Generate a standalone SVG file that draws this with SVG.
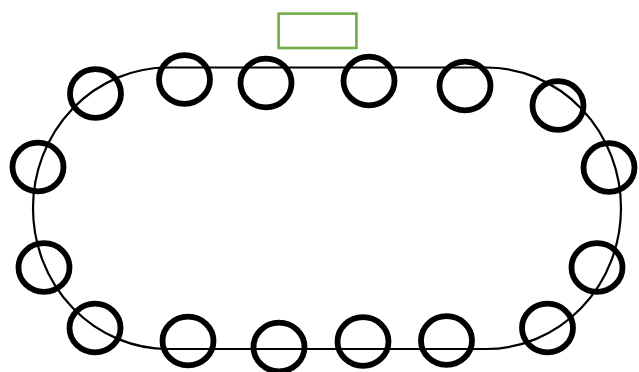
<svg xmlns="http://www.w3.org/2000/svg" width="639" height="372" viewBox="0 0 639 372">
<style>
.track{fill:none;stroke:#000;stroke-width:2.2}
.seat{fill:none;stroke:#000;stroke-width:5.8}
.box{fill:none;stroke:#70ad47;stroke-width:2.6}
</style>
<rect width="639" height="372" fill="#fff"/>
<g id="connectors">
<rect class="track" x="33" y="67.5" width="588" height="281.5" rx="135" ry="140.7"/>
</g>
<g id="box"><rect class="box" x="278.6" y="13.6" width="77.8" height="34.4"/></g>
<g id="s1"><ellipse class="seat" cx="95.5" cy="93.5" rx="25.5" ry="24.3"/></g>
<g id="s2"><ellipse class="seat" cx="184.5" cy="79.5" rx="25.5" ry="24.3"/></g>
<g id="s3"><ellipse class="seat" cx="266" cy="83" rx="25.5" ry="24.3"/></g>
<g id="s4"><ellipse class="seat" cx="38" cy="167" rx="25.5" ry="24.3"/></g>
<g id="s5"><ellipse class="seat" cx="369" cy="81" rx="25.5" ry="24.3"/></g>
<g id="s6"><ellipse class="seat" cx="465" cy="86" rx="25.5" ry="24.3"/></g>
<g id="s7"><ellipse class="seat" cx="558" cy="105.5" rx="25.5" ry="24.3"/></g>
<g id="s8"><ellipse class="seat" cx="609" cy="167.5" rx="25.5" ry="24.3"/></g>
<g id="s9"><ellipse class="seat" cx="44" cy="267.5" rx="25.5" ry="24.3"/></g>
<g id="s10"><ellipse class="seat" cx="95" cy="328" rx="25.5" ry="24.3"/></g>
<g id="s11"><ellipse class="seat" cx="188" cy="341" rx="25.5" ry="24.3"/></g>
<g id="s12"><ellipse class="seat" cx="279" cy="347" rx="25.5" ry="24.3"/></g>
<g id="s13"><ellipse class="seat" cx="363" cy="341.5" rx="25.5" ry="24.3"/></g>
<g id="s14"><ellipse class="seat" cx="446.5" cy="340.5" rx="25.5" ry="24.3"/></g>
<g id="s15"><ellipse class="seat" cx="547.5" cy="328" rx="25.5" ry="24.3"/></g>
<g id="s16"><ellipse class="seat" cx="597" cy="267.5" rx="25.5" ry="24.3"/></g>
</svg>
